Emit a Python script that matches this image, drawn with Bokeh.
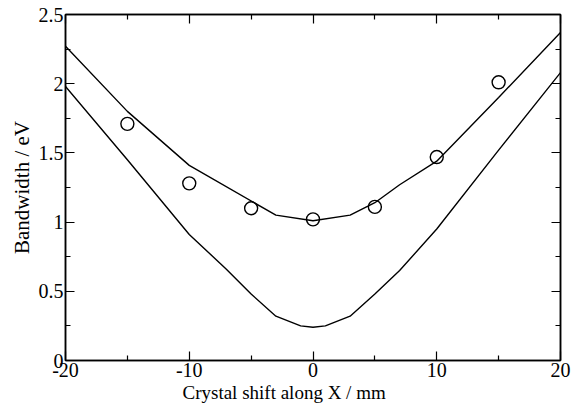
from bokeh.plotting import figure
from bokeh.models import LinearAxis, FixedTicker, NumeralTickFormatter, Range1d, CustomJSTickFormatter, Title
from bokeh.embed import file_html
from bokeh.resources import INLINE

# data
x_upper = [-20, -15, -10, -3, 0, 3, 5, 7, 10, 15, 20]
y_upper = [2.27, 1.80, 1.41, 1.05, 1.01, 1.05, 1.14, 1.27, 1.44, 1.90, 2.37]
x_lower = [-20, -15, -10, -7, -5, -3, -1, 0, 1, 3, 5, 7, 10, 15, 20]
y_lower = [1.98, 1.45, 0.91, 0.66, 0.48, 0.32, 0.25, 0.24, 0.25, 0.32, 0.48, 0.65, 0.95, 1.52, 2.08]
x_meas = [-15, -10, -5, 0, 5, 10, 15]
y_meas = [1.71, 1.28, 1.10, 1.02, 1.11, 1.47, 2.01]
x_ticks = [-20, -10, 0, 10, 20]
x_minor = [-15, -5, 5, 15]
y_ticks = [0, 0.5, 1, 1.5, 2, 2.5]
y_minor = [0.25, 0.75, 1.25, 1.75, 2.25]
x_title = "Crystal shift along X / mm"
y_title = "Bandwidth / eV"

FONT = "Liberation Serif"

p = figure(width=580, height=410, output_backend="svg", toolbar_location=None,
           x_range=Range1d(-20, 20), y_range=Range1d(0, 2.5),
           x_axis_location=None, y_axis_location=None,
           min_border_left=65, min_border_right=20, min_border_top=14, min_border_bottom=50)
p.grid.visible = False
p.outline_line_color = "black"
p.outline_line_width = 1.5
p.background_fill_color = "white"
p.border_fill_color = "white"

def style(ax, show_labels, ticks, minor):
    ax.ticker = FixedTicker(ticks=ticks, minor_ticks=minor)
    ax.major_tick_in = 9
    ax.major_tick_out = 0
    ax.minor_tick_in = 5
    ax.minor_tick_out = 0
    ax.axis_line_color = "black"
    ax.axis_line_width = 1.5
    ax.major_tick_line_width = 1.2
    ax.minor_tick_line_width = 1.2
    ax.major_label_text_font = FONT
    ax.major_label_text_font_size = "20px"
    ax.major_label_text_color = "black"
    ax.major_label_standoff = 2
    ax.axis_label_text_font = FONT
    ax.axis_label_text_font_size = "21px"
    ax.axis_label_text_font_style = "normal"
    ax.axis_label_text_color = "black"
    if show_labels:
        ax.formatter = NumeralTickFormatter(format="0.[0]")
    else:
        ax.formatter = CustomJSTickFormatter(code="return ''")

xb = LinearAxis()
style(xb, True, x_ticks, x_minor)
p.add_layout(xb, "below")
xt = LinearAxis()
style(xt, False, x_ticks, x_minor)
p.add_layout(xt, "above")
yl = LinearAxis(axis_label=y_title)
style(yl, True, y_ticks, y_minor)
yl.axis_label_standoff = 2
p.add_layout(yl, "left")
yr = LinearAxis()
style(yr, False, y_ticks, y_minor)
p.add_layout(yr, "right")

# x-axis title (offset left of centre, as in the reference)
p.add_layout(Title(text=x_title, align="left", offset=117, standoff=0,
                   text_font=FONT, text_font_size="19px", text_font_style="normal",
                   text_color="black"), "below")

p.line(x_upper, y_upper, line_color="black", line_width=1.4)
p.line(x_lower, y_lower, line_color="black", line_width=1.4)
p.scatter(x_meas, y_meas, marker="circle", size=13, fill_color=None,
          line_color="black", line_width=1.4)

open("out.html", "w").write(file_html(p, INLINE))
